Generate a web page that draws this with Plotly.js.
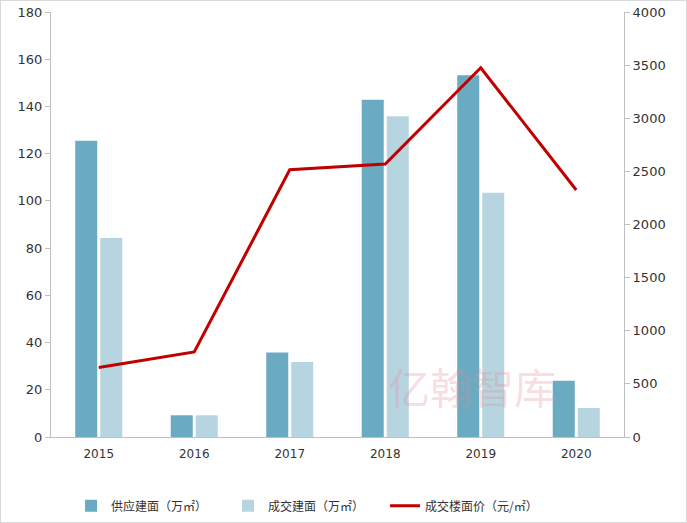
<!DOCTYPE html>
<html><head><meta charset="utf-8">
<script src="https://cdn.plot.ly/plotly-3.0.1.min.js"></script>
<style>body{margin:0;padding:0;background:#fff}#wrap{position:relative;width:687px;height:523px}#chart{width:687px;height:523px}#frame{position:absolute;left:0;top:0;width:687px;height:523px;box-sizing:border-box;border:1px solid #d9d9d9;pointer-events:none}</style>
</head><body><div id="wrap"><div id="chart"></div><div id="frame"></div></div>
<script>
const years = ['2015','2016','2017','2018','2019','2020'];
const supplyArea = [125.5, 9.2, 35.8, 142.8, 153.2, 23.8];
const dealArea = [84.3, 9.2, 31.8, 135.8, 103.4, 12.3];
const dealPrice = [655, 800, 2515, 2570, 3475, 2325];
const names = ['供应建面（万㎡）', '成交建面（万㎡）', '成交楼面价（元/㎡）'];
const font = 'Tahoma, "DejaVu Sans", "Noto Sans CJK SC", sans-serif';
const data = [
  {type:'bar', x:years, y:supplyArea, name:names[0], marker:{color:'#6AABC2'}, yaxis:'y'},
  {type:'bar', x:years, y:dealArea, name:names[1], marker:{color:'#B7D5E0'}, yaxis:'y'},
  {type:'scatter', mode:'lines', x:years, y:dealPrice, name:names[2], line:{color:'#C00000', width:3}, yaxis:'y2'}
];
const layout = {
  width:687, height:523,
  margin:{l:51, r:63, t:12, b:86, autoexpand:false},
  paper_bgcolor:'#fff', plot_bgcolor:'#fff',
  font:{family:font, size:13, color:'#333'},
  barmode:'group', bargap:0.476, bargroupgap:0.12,
  showlegend:true,
  legend:{orientation:'h', x:0.035, xanchor:'left', y:-0.162, yanchor:'middle', entrywidth:112, entrywidthmode:'pixels', font:{size:12, color:'#333', family:'"Noto Sans CJK SC", sans-serif'}, traceorder:'normal'},
  xaxis:{type:'category', showline:true, linecolor:'#bfbfbf', linewidth:1, ticks:'', showgrid:false, zeroline:false, tickfont:{size:12}, ticklabelstandoff:6},
  yaxis:{range:[0,180], dtick:20, showline:true, linecolor:'#bfbfbf', ticks:'outside', ticklen:5, tickcolor:'#bfbfbf', showgrid:false, zeroline:false, tickfont:{size:13}},
  yaxis2:{range:[0,4000], dtick:500, overlaying:'y', side:'right', showline:true, linecolor:'#bfbfbf', ticks:'outside', ticklen:5, tickcolor:'#bfbfbf', showgrid:false, zeroline:false, tickfont:{size:13}},
  annotations:[{text:'亿翰智库', xref:'paper', yref:'paper', x:0.735, y:0.122, xanchor:'center', yanchor:'middle', showarrow:false, font:{size:42, color:'rgba(225,140,150,0.3)', family:'"Noto Sans CJK SC", sans-serif'}}]
};
Plotly.newPlot('chart', data, layout, {displayModeBar:false, staticPlot:true});
</script></body></html>
